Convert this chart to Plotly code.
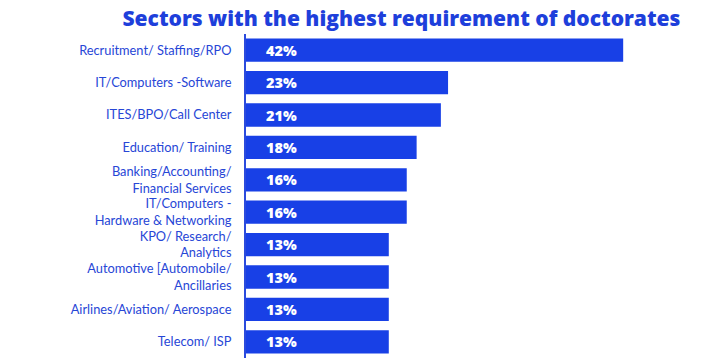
import plotly.graph_objects as go

sectors = [
    "Recruitment/ Staffing/RPO",
    "IT/Computers -Software",
    "ITES/BPO/Call Center",
    "Education/ Training",
    "Banking/Accounting/<br>Financial Services",
    "IT/Computers -<br>Hardware & Networking",
    "KPO/ Research/<br>Analytics",
    "Automotive [Automobile/<br>Ancillaries",
    "Airlines/Aviation/ Aerospace",
    "Telecom/ ISP",
]
# bar lengths as drawn in the picture (in % scale of the 42% bar)
bar_values = [42, 22.5, 21.7, 19.0, 17.9, 17.9, 15.9, 15.9, 15.9, 15.9]
percent_labels = ["42%", "23%", "21%", "18%", "16%", "16%", "13%", "13%", "13%", "13%"]

BLUE = "#1840E6"
TEXT_BLUE = "#2746D6"

fig = go.Figure()
fig.add_trace(go.Bar(
    x=bar_values, y=sectors, orientation="h",
    marker=dict(color=BLUE, line=dict(width=0)),
    width=0.72, hoverinfo="skip",
))
for s, lab in zip(sectors, percent_labels):
    fig.add_annotation(x=0, y=s, text=lab, showarrow=False, xanchor="left",
                       xshift=18, font=dict(family="Open Sans", size=14.5, color="white", weight=800))

# page body adds 8px offset; figure sized to fill the rest of the window
fig.update_layout(
    width=718, height=356,
    margin=dict(l=238, r=36, t=26, b=6),
    paper_bgcolor="white", plot_bgcolor="white",
    showlegend=False,
    title=dict(text="Sectors with the highest requirement of doctorates",
               x=0.548, xanchor="center", y=0.97, yanchor="middle",
               font=dict(family="Open Sans", size=21, color="#1E3FDB", weight=800)),
    xaxis=dict(range=[0, 49.44], visible=False, fixedrange=True),
    yaxis=dict(autorange="reversed", showline=True, linecolor="#2B4BDD", linewidth=2,
               showgrid=False, ticks="", ticklabelstandoff=10,
               tickfont=dict(family="Lato", size=12.8, color=TEXT_BLUE)),
)
fig.write_html("out.html")
